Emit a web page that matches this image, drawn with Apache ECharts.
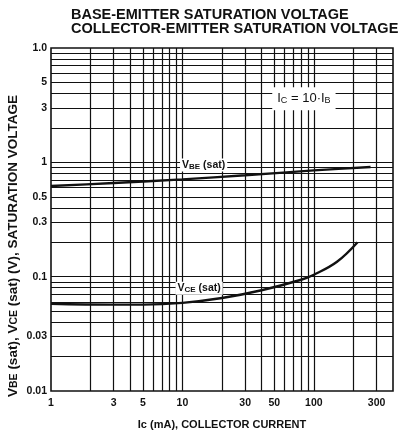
<!DOCTYPE html>
<html>
<head>
<meta charset="utf-8">
<script src="https://cdn.jsdelivr.net/npm/echarts@6/dist/echarts.min.js"></script>
<style>
  html, body { margin: 0; padding: 0; background: #fff; }
  #chart { width: 400px; height: 440px; }
</style>
</head>
<body>
<div id="chart"></div>
<script>
// Ic (mA) / V readings
const icVbe = [1, 3, 10, 30, 100, 270];
const vbe = [0.62, 0.66, 0.71, 0.77, 0.85, 0.91];
const icVce = [1, 3, 5, 10, 20, 40, 80, 100, 150, 215];
const vce = [0.058, 0.057, 0.057, 0.059, 0.065, 0.076, 0.094, 0.104, 0.135, 0.2];

// log grid
const xGrid = [2, 3, 4, 5, 6, 7, 8, 9, 10, 20, 30, 40, 50, 60, 70, 80, 90, 100, 200, 300];
const yGrid = [0.02, 0.03, 0.04, 0.05, 0.06, 0.07, 0.08, 0.09, 0.1,
  0.2, 0.3, 0.4, 0.5, 0.6, 0.7, 0.8, 0.9, 1, 2, 3, 4, 5, 6, 7, 8, 9];
const xTicks = [1, 3, 5, 10, 30, 50, 100, 300];
const xTickText = ['1', '3', '5', '10', '30', '50', '100', '300'];
const yTicks = [10, 5, 3, 1, 0.5, 0.3, 0.1, 0.03, 0.01];
const yTickText = ['1.0', '5', '3', '1', '0.5', '0.3', '0.1', '0.03', '0.01'];

const FONT = '"Liberation Sans", Arial, sans-serif';
const INK = '#111';

let chart = echarts.init(document.getElementById('chart'), null, {renderer: 'canvas'});

let gridLines = [];
xGrid.forEach(v => gridLines.push({xAxis: v}));
yGrid.forEach(v => gridLines.push({yAxis: v}));

let tickLabelStyle = {show: true, color: INK, fontFamily: FONT, fontWeight: 'bold', fontSize: 10.5};
xTicks.forEach((v, i) => gridLines.push({
  xAxis: v,
  lineStyle: {color: 'rgba(0,0,0,0)', width: 0},
  label: Object.assign({}, tickLabelStyle, {position: 'start', distance: 7, formatter: xTickText[i]})
}));
yTicks.forEach((v, i) => gridLines.push({
  yAxis: v,
  lineStyle: {color: 'rgba(0,0,0,0)', width: 0},
  label: Object.assign({}, tickLabelStyle, {position: 'start', distance: 4, formatter: yTickText[i]})
}));

let subRich = size => ({s: {fontSize: size, fontWeight: 'bold', fontFamily: FONT, color: INK, verticalAlign: 'bottom'}});

let option = {
  animation: false,
  backgroundColor: '#fff',
  title: {
    text: 'BASE-EMITTER SATURATION VOLTAGE\nCOLLECTOR-EMITTER SATURATION VOLTAGE',
    left: 66,
    top: 3,
    textStyle: {color: INK, fontFamily: FONT, fontWeight: 'bold', fontSize: 14.5, lineHeight: 14}
  },
  grid: {
    left: 51, top: 48, width: 342, height: 343,
    show: true, borderColor: INK, borderWidth: 1.6, backgroundColor: '#fff'
  },
  xAxis: {
    type: 'log', logBase: 10, min: 1, max: 400,
    axisLine: {show: false}, axisTick: {show: false}, axisLabel: {show: false}, splitLine: {show: false},
    name: 'Ic (mA), COLLECTOR CURRENT',
    nameLocation: 'middle', nameGap: 28,
    nameTextStyle: {color: INK, fontFamily: FONT, fontWeight: 'bold', fontSize: 11}
  },
  yAxis: {
    type: 'log', logBase: 10, min: 0.01, max: 10,
    axisLine: {show: false}, axisTick: {show: false}, axisLabel: {show: false}, splitLine: {show: false}
  },
  graphic: [{
    type: 'text',
    x: 13, y: 246,
    rotation: Math.PI / 2,
    style: {
      text: 'V{s|BE} (sat), V{s|CE} (sat) (V), SATURATION VOLTAGE',
      fill: INK, fontFamily: FONT, fontWeight: 'bold', fontSize: 13.5,
      align: 'center', verticalAlign: 'middle',
      rich: {s: {fontSize: 10.5, fontWeight: 'bold', fontFamily: FONT, fill: INK, verticalAlign: 'bottom'}}
    }
  }],
  series: [
    {
      // grid + tick labels
      type: 'line',
      data: [],
      silent: true,
      z: 1,
      markLine: {
        silent: true,
        symbol: ['none', 'none'],
        label: {show: false},
        lineStyle: {type: 'solid', color: INK, width: 1.2},
        data: gridLines
      }
    },
    {
      name: 'VBE(sat)',
      type: 'line',
      z: 3,
      smooth: 0.3,
      showSymbol: false,
      data: icVbe.map((x, i) => [x, vbe[i]]),
      lineStyle: {color: INK, width: 2.4},
      markPoint: {
        symbolSize: 0,
        label: {
          show: true, formatter: 'V{s|BE} (sat)', color: INK, fontFamily: FONT, fontSize: 10.5, fontWeight: 'bold',
          backgroundColor: '#fff', padding: [1, 2], rich: subRich(8)
        },
        data: [{coord: [14.5, 0.95]}]
      }
    },
    {
      name: 'VCE(sat)',
      type: 'line',
      z: 3,
      smooth: 0.4,
      showSymbol: false,
      data: icVce.map((x, i) => [x, vce[i]]),
      lineStyle: {color: INK, width: 2.4},
      markPoint: {
        symbolSize: 0,
        label: {
          show: true, formatter: 'V{s|CE} (sat)', color: INK, fontFamily: FONT, fontSize: 10.5, fontWeight: 'bold',
          backgroundColor: '#fff', padding: [1, 2], rich: subRich(8)
        },
        data: [{coord: [13.4, 0.079]}]
      }
    },
    {
      name: 'note',
      type: 'line',
      z: 3,
      data: [],
      markPoint: {
        symbolSize: 0,
        label: {
          show: true, formatter: 'I{s|C} = 10·I{s|B}', color: INK, fontFamily: FONT, fontSize: 13,
          backgroundColor: '#fff', padding: [5, 5],
          rich: {s: {fontSize: 9, fontFamily: FONT, color: INK, verticalAlign: 'bottom'}}
        },
        data: [{coord: [84, 3.6]}]
      }
    }
  ]
};

chart.setOption(option);
</script>
</body>
</html>
